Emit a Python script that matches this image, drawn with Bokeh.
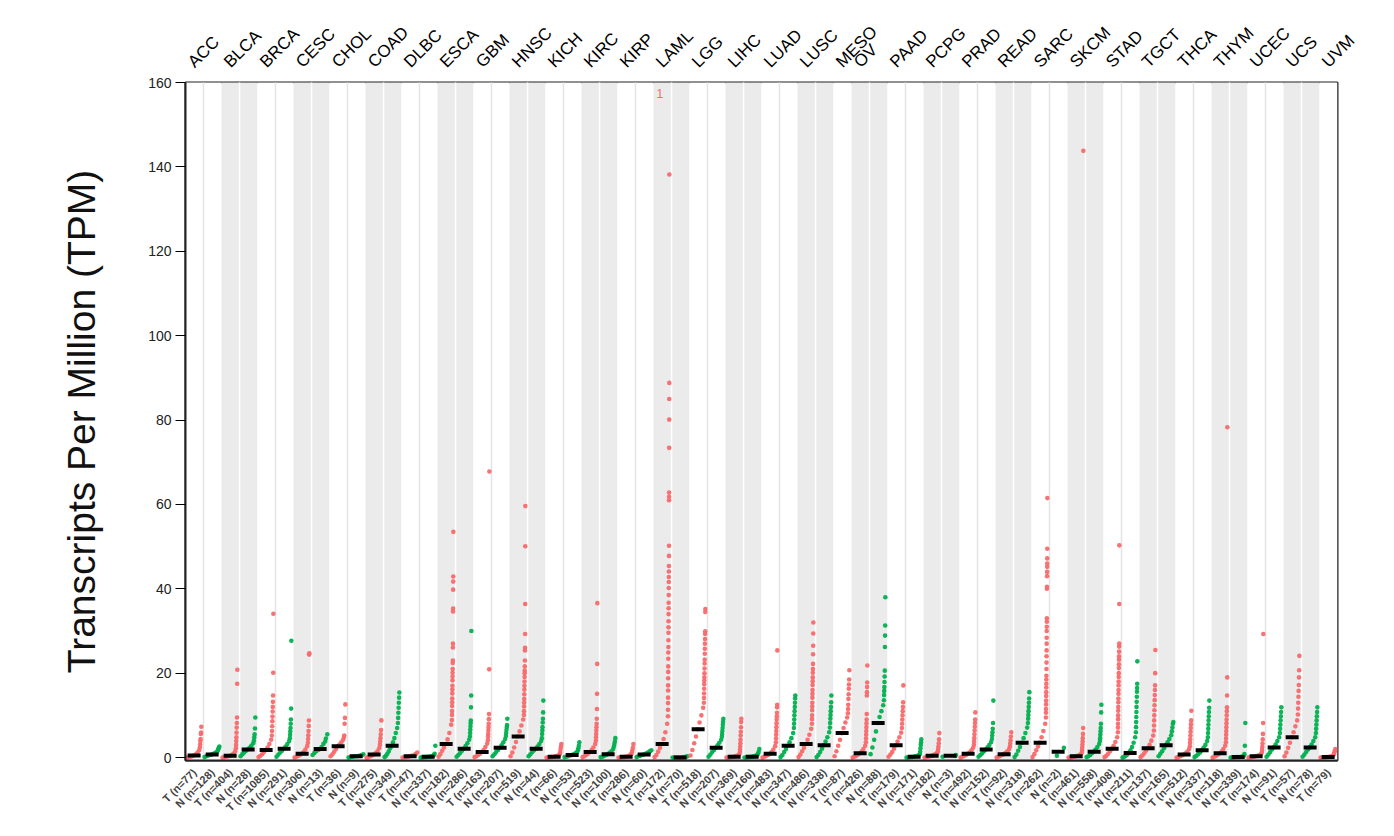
import math
from bokeh.plotting import figure
from bokeh.layouts import column
from bokeh.models import Range1d, FixedTicker
from bokeh.embed import file_html
from bokeh.resources import INLINE
from bokeh.core.properties import value

# ---------------- data ----------------
cancer_types = ["ACC","BLCA","BRCA","CESC","CHOL","COAD","DLBC","ESCA","GBM","HNSC","KICH",
                "KIRC","KIRP","LAML","LGG","LIHC","LUAD","LUSC","MESO","OV","PAAD","PCPG",
                "PRAD","READ","SARC","SKCM","STAD","TGCT","THCA","THYM","UCEC","UCS","UVM"]

tumor_n = [77,404,1085,306,36,275,47,182,163,519,66,523,286,172,518,369,483,486,87,426,
           179,182,492,92,262,461,408,137,512,118,174,57,79]
normal_n = [128,28,291,13,9,349,337,286,207,44,53,100,60,70,207,160,347,338,None,88,
            171,3,152,318,2,558,211,165,337,339,91,78,None]

tumor_median = [0.5,0.4,1.8,0.9,2.7,0.7,0.3,3.2,1.3,5.0,0.2,1.3,0.2,3.2,6.7,0.2,0.9,3.2,5.8,1.0,
                2.9,0.4,0.9,0.8,3.5,0.3,2.1,2.2,0.7,1.0,0.3,4.8,0.1]
normal_median = [0.7,1.9,2.1,2.0,0.3,2.8,0.2,2.1,2.3,2.1,0.6,0.8,0.7,0.0,2.3,0.2,2.8,2.9,None,8.2,
                 0.2,0.4,1.9,3.5,1.4,1.4,1.1,2.9,1.7,0.1,2.4,2.4,None]

tumor_body = [
    [0.0,0.1,0.2,0.3,0.5,0.7,1.1,1.7],
    [0.0,0.1,0.2,0.3,0.4,0.6,0.9,1.5],
    [0.1,0.4,0.8,1.3,1.8,2.4,3.2,4.2],
    [0.0,0.2,0.4,0.6,0.9,1.3,1.9,2.7],
    [0.3,0.8,1.4,2.0,2.7,3.1,3.6,4.2],
    [0.0,0.1,0.3,0.5,0.7,1.0,1.5,2.2],
    [0.0,0.1,0.1,0.2,0.3,0.4,0.5,0.7],
    [0.2,0.8,1.6,2.4,3.2,4.3,5.8,7.8],
    [0.1,0.3,0.6,0.9,1.3,1.8,2.5,3.3],
    [0.3,1.2,2.4,3.7,5.0,6.2,7.6,9.0],
    [0.0,0.0,0.1,0.1,0.2,0.3,0.4,0.6],
    [0.1,0.3,0.6,0.9,1.3,1.8,2.4,3.2],
    [0.0,0.0,0.1,0.1,0.2,0.3,0.5,0.8],
    [0.1,0.6,1.4,2.3,3.2,4.4,6.0,8.0],
    [0.5,1.8,3.4,5.0,6.7,8.3,10.0,11.8],
    [0.0,0.0,0.1,0.1,0.2,0.3,0.5,0.8],
    [0.0,0.2,0.4,0.6,0.9,1.3,1.9,2.7],
    [0.1,0.7,1.5,2.3,3.2,4.2,5.4,6.8],
    [0.3,1.5,2.8,4.2,5.8,7.0,8.3,9.5],
    [0.0,0.2,0.4,0.7,1.0,1.4,2.0,2.8],
    [0.2,0.7,1.3,2.1,2.9,3.8,4.8,5.9],
    [0.0,0.1,0.2,0.3,0.4,0.6,0.8,1.1],
    [0.0,0.2,0.4,0.6,0.9,1.2,1.7,2.3],
    [0.0,0.2,0.4,0.6,0.8,1.1,1.5,2.0],
    [0.1,0.8,1.7,2.6,3.5,4.8,6.3,8.0],
    [0.0,0.0,0.1,0.2,0.3,0.4,0.6,0.9],
    [0.1,0.4,0.9,1.5,2.1,2.8,3.7,4.8],
    [0.1,0.5,1.0,1.6,2.2,3.0,4.0,5.2],
    [0.0,0.1,0.3,0.5,0.7,1.0,1.4,2.0],
    [0.0,0.2,0.4,0.7,1.0,1.4,2.0,2.8],
    [0.0,0.1,0.1,0.2,0.3,0.4,0.6,0.9],
    [0.3,1.2,2.3,3.5,4.8,6.0,7.4,8.8],
    [0.0,0.0,0.0,0.1,0.1,0.2,0.3,0.5],
]
tumor_tail = [
    [2.4,3.1,3.9,4.4,5.6,5.9,7.3],
    [2.2,3.0,3.9,4.8,5.9,7.1,8.2,9.5,17.5,20.8],
    [5.2,6.3,7.4,8.6,9.7,10.9,12.0,13.2,14.7,20.1,34.1],
    [3.5,4.4,5.3,6.3,7.5,8.8,24.4,24.7],
    [4.8,5.2,8.0,9.4,12.6],
    [3.0,3.8,4.6,5.5,6.5,8.8],
    [0.9,1.2],
    [8.9,10.1,11.0,12.2,13.1,14.0,15.2,16.1,17.0,18.3,19.2,20.1,21.0,22.4,23.0,26.1,27.0,
     34.6,35.3,39.8,41.7,42.9,53.5],
    [4.1,4.9,5.6,6.4,7.2,8.0,9.1,10.3,20.9,67.8],
    [10.1,11.0,12.1,13.0,13.9,15.0,16.1,17.0,18.0,19.1,20.0,20.6,21.6,23.0,25.4,26.0,29.3,
     36.4,50.1,59.6],
    [0.9,1.3,2.0,2.6,3.2],
    [4.0,4.8,5.6,6.4,7.2,8.0,9.2,11.5,15.1,22.2,36.6],
    [1.2,1.7,2.3,3.2],
    [9.8,11.3,12.9,14.2,15.9,17.1,18.8,20.3,21.6,23.4,24.9,26.2,27.8,29.6,30.9,32.3,34.0,
     35.4,36.7,38.5,40.2,41.6,42.8,44.1,45.4,47.8,50.2,61.0,61.8,62.8,73.4,80.1,85.0,88.8,138.2],
    [13.0,14.1,15.2,16.3,17.4,18.2,19.0,20.0,21.1,22.3,23.2,24.6,25.8,27.0,28.1,29.3,29.9,34.5,35.2],
    [1.3,1.9,2.6,3.4,4.2,5.2,6.1,7.2,8.4,9.2],
    [3.6,4.5,5.4,6.3,7.2,8.1,9.0,9.8,10.6,11.9,12.5,25.4],
    [8.0,9.1,10.0,11.2,12.1,13.0,14.2,15.1,16.0,17.2,18.1,19.0,20.1,21.0,22.2,24.5,26.5,29.4,32.0],
    [10.5,11.5,12.5,13.9,15.0,16.3,17.3,18.5,20.7],
    [3.6,4.5,5.4,6.3,7.2,8.1,9.0,10.3,14.7,15.5,16.7,17.8,21.8],
    [7.0,8.0,9.0,10.0,11.0,12.0,13.1,17.1],
    [1.5,2.0,2.6,3.4,4.3,5.8],
    [3.0,3.8,4.6,5.5,6.4,7.3,8.2,9.0,10.7],
    [2.6,3.3,4.1,5.0,6.0],
    [9.5,10.6,11.5,12.6,13.5,14.6,15.5,16.6,17.5,18.5,19.4,21.0,22.5,24.0,25.4,27.0,28.4,30.0,
     31.0,32.2,33.0,40.0,40.5,43.0,44.0,45.2,46.0,47.2,49.5,61.5],
    [1.3,1.8,2.4,3.1,3.8,4.6,5.6,7.0,143.8],
    [6.0,7.1,8.0,9.1,10.0,11.1,12.0,13.1,14.0,15.1,16.0,17.1,18.0,19.1,20.0,21.2,22.1,23.2,24.0,
     25.1,26.3,27.0,36.4,50.3],
    [6.4,7.6,8.8,10.0,11.2,12.4,13.6,14.8,16.0,17.1,20.0,25.5],
    [2.7,3.5,4.3,5.2,6.1,7.0,7.9,8.8,11.1],
    [3.6,4.5,5.4,6.3,7.2,8.1,9.0,10.0,11.0,11.9,14.7,19.0,78.3],
    [1.3,1.8,2.5,3.3,4.3,5.6,8.2,29.3],
    [10.2,11.6,13.0,14.4,15.8,17.2,19.0,20.7,24.1],
    [0.8,1.2,1.6,2.0],
]
normal_body = [
    [0.1,0.3,0.5,0.6,0.7,0.9,1.1,1.4],
    [0.3,0.8,1.2,1.6,1.9,2.3,2.8,3.4],
    [0.2,0.7,1.2,1.6,2.1,2.6,3.2,3.9],
    [0.6,1.1,1.5,1.8,2.0,2.5,3.2,3.8],
    [0.0,0.1,0.2,0.3,0.3,0.4,0.5],
    [0.1,0.4,0.9,1.5,2.2,2.8,3.6,4.6,5.8,7.0],
    [0.0,0.0,0.1,0.1,0.2,0.2,0.3,0.4],
    [0.2,0.6,1.1,1.6,2.1,2.7,3.4,4.2],
    [0.3,0.8,1.3,1.8,2.3,2.9,3.6,4.4],
    [0.3,0.8,1.3,1.7,2.1,2.6,3.2,3.9],
    [0.1,0.2,0.3,0.5,0.6,0.8,1.0,1.3],
    [0.1,0.2,0.4,0.6,0.8,1.1,1.5,2.0],
    [0.1,0.3,0.4,0.6,0.7,0.9,1.1,1.3],
    [0.0,0.0,0.0,0.0,0.0,0.0,0.1,0.1],
    [0.2,0.7,1.3,1.8,2.3,2.9,3.5,4.2],
    [0.0,0.0,0.1,0.1,0.2,0.3,0.4,0.6],
    [0.1,0.6,1.3,2.0,2.8,3.6,4.6,5.8],
    [0.1,0.6,1.3,2.1,2.9,3.8,4.8,6.0],
    None,
    [0.8,2.4,4.2,6.2,8.2,9.6,11.0,12.4],
    [0.0,0.0,0.1,0.1,0.2,0.3,0.4,0.6],
    [0.2,0.4],
    [0.2,0.6,1.0,1.5,1.9,2.4,3.0,3.7],
    [0.1,0.7,1.6,2.5,3.5,4.6,5.8,7.1],
    [0.4],
    [0.1,0.3,0.6,1.0,1.4,1.9,2.5,3.2],
    [0.0,0.2,0.4,0.7,1.1,1.7,2.5,3.5,4.8],
    [0.3,0.9,1.5,2.2,2.9,3.6,4.4,5.3],
    [0.1,0.4,0.8,1.2,1.7,2.3,3.0,3.9],
    [0.0,0.0,0.0,0.1,0.1,0.1,0.2,0.3],
    [0.2,0.7,1.3,1.9,2.4,3.1,3.9,4.8],
    [0.2,0.7,1.3,1.9,2.4,3.1,3.9,4.8],
    None,
]
normal_tail = [
    [1.7,2.0,2.3,2.6],
    [4.0,4.8,5.5,6.9,9.5],
    [4.6,5.4,6.2,7.0,8.0,9.0,11.6,27.7],
    [4.5,5.5],
    [0.6,0.8],
    [8.2,9.4,10.6,11.8,13.0,14.2,15.4],
    [0.6,0.9,2.8],
    [5.0,5.8,6.6,7.4,8.2,8.8,11.9,14.7,30.0],
    [5.1,5.8,6.5,7.2,7.7,9.2],
    [4.6,5.6,6.4,7.2,8.3,9.2,10.7,13.5],
    [1.7,2.2,2.8,3.6],
    [2.6,3.2,3.8,4.6],
    [1.5,1.7],
    [0.2,0.3],
    [4.9,5.6,6.3,7.0,7.8,8.5,9.2],
    [0.9,1.3,2.0],
    [7.0,8.0,9.0,10.0,11.0,12.0,13.0,14.0,14.7],
    [7.1,8.2,9.2,10.1,11.0,12.0,13.1,14.7],
    None,
    [13.6,14.8,15.8,16.7,17.9,19.2,20.6,26.2,28.9,31.3,38.0],
    [0.9,1.4,2.2,3.0,3.6,4.3],
    [0.6],
    [4.4,5.2,6.0,6.8,8.2,13.5],
    [8.2,9.2,10.1,11.0,12.0,13.0,14.0,15.5],
    [2.3],
    [3.9,4.6,5.4,6.2,7.0,8.0,10.7,12.5],
    [6.0,7.2,8.4,9.6,10.8,12.0,13.2,14.4,15.6,16.5,17.5,22.8],
    [6.2,7.1,8.0,8.4],
    [4.8,5.8,6.8,7.8,8.8,9.8,10.8,11.8,13.5],
    [0.5,0.8,2.8,8.2],
    [5.8,6.8,7.8,8.8,9.8,10.8,11.9],
    [5.8,6.8,7.8,8.8,9.8,10.8,11.9],
    None,
]
laml_marker_text = "1"
laml_marker_value = 157.3

y_ticks = [0, 20, 40, 60, 80, 100, 120, 140, 160]
y_title = "Transcripts Per Million (TPM)"

# ---------------- styling ----------------
TUMOR = "#F8696B"
NORMAL = "#00B04F"
GREY = "#EBEBEB"
FONT = "Liberation Sans"
PX = 18.0            # pixels per column
LEFT = 185           # frame left edge on page
FIG_W = 1390
HEAD_H = 74

# ---------------- layout of columns ----------------
col_labels, col_color, col_body, col_tail, col_median = [], [], [], [], []
type_start, type_end = [], []
for i, t in enumerate(cancer_types):
    type_start.append(len(col_labels))
    col_labels.append(f"T (n={tumor_n[i]})")
    col_color.append(TUMOR)
    col_body.append(tumor_body[i]); col_tail.append(tumor_tail[i]); col_median.append(tumor_median[i])
    if normal_n[i] is not None:
        col_labels.append(f"N (n={normal_n[i]})")
        col_color.append(NORMAL)
        col_body.append(normal_body[i]); col_tail.append(normal_tail[i]); col_median.append(normal_median[i])
    type_end.append(len(col_labels))
ncol = len(col_labels)
right_border = FIG_W - LEFT - int(ncol * PX)

# ---------------- header: cancer-type names on a rotated top axis ----------------
head = figure(width=FIG_W, height=HEAD_H, output_backend="svg", toolbar_location=None,
              x_range=Range1d(0, ncol), y_range=Range1d(0, 1),
              x_axis_location="above", y_axis_location=None,
              min_border_left=LEFT, min_border_right=right_border,
              min_border_top=HEAD_H - 2, min_border_bottom=0,
              background_fill_color="white", border_fill_color="white")
head.outline_line_color = None
head.grid.visible = False
head_ticks = [type_start[i] + 0.3 for i in range(len(cancer_types))]
head.xaxis.ticker = FixedTicker(ticks=head_ticks)
head.xaxis.major_label_overrides = {head_ticks[i]: cancer_types[i] for i in range(len(cancer_types))}
head.xaxis.major_label_orientation = math.pi / 4
head.xaxis.major_label_text_font = FONT
head.xaxis.major_label_text_font_size = "17px"
head.xaxis.major_label_text_color = "#000000"
head.xaxis.major_label_standoff = 2
head.xaxis.axis_line_color = None
head.xaxis.major_tick_line_color = None
head.xaxis.minor_tick_line_color = None

# ---------------- main plot ----------------
p = figure(width=FIG_W, height=756, output_backend="svg", toolbar_location=None,
           x_range=Range1d(0, ncol), y_range=Range1d(-0.7, 160),
           min_border_left=LEFT, min_border_right=right_border,
           min_border_top=8, min_border_bottom=70,
           background_fill_color="white", border_fill_color="white")
p.grid.visible = False
p.outline_line_color = "#222222"
p.outline_line_width = 2

# background bands
bl, br, bc = [], [], []
for i in range(len(cancer_types)):
    bl.append(type_start[i]); br.append(type_end[i]); bc.append(GREY if i % 2 else "#FFFFFF")
p.quad(left=bl, right=br, bottom=-2, top=162, fill_color=bc, line_color=None)

# separators inside bands
sx, sc = [], []
for i in range(len(cancer_types)):
    for k in range(type_start[i] + 1, type_end[i]):
        sx.append(k); sc.append("#FFFFFF" if i % 2 else "#E4E4E4")
p.segment(x0=sx, y0=[-2] * len(sx), x1=sx, y1=[162] * len(sx), line_color=sc, line_width=1.5)

# dots
for k in range(ncol):
    xs, ys = [], []
    b = col_body[k]
    nb = len(b)
    for j, v in enumerate(b):
        xs.append(k + 0.06 + (0.70 * j / (nb - 1) if nb > 1 else 0.35))
        ys.append(v)
    tl = col_tail[k]
    nt = len(tl)
    for j, v in enumerate(tl):
        xs.append(k + 0.80 + (0.08 * j / (nt - 1) if nt > 1 else 0.0))
        ys.append(v)
    p.scatter(xs, ys, size=4.6, fill_color=col_color[k], line_color=None, fill_alpha=0.95)

# medians
mx0 = [k + 0.12 for k in range(ncol)]
mx1 = [k + 0.84 for k in range(ncol)]
p.segment(x0=mx0, y0=col_median, x1=mx1, y1=col_median, line_color="black",
          line_width=4, line_cap="butt")

# LAML marker text
laml_col = type_start[cancer_types.index("LAML")]
p.text(x=[laml_col + 0.35], y=[laml_marker_value], text=[laml_marker_text], text_color=TUMOR,
       text_font_size="12px", text_align="center", text_baseline="middle", text_font=value(FONT))

# axes
p.yaxis.ticker = FixedTicker(ticks=y_ticks)
p.yaxis.axis_label = y_title
p.yaxis.axis_label_text_font = FONT
p.yaxis.axis_label_text_font_size = "39px"
p.yaxis.axis_label_text_font_style = "normal"
p.yaxis.axis_label_text_color = "#111111"
p.yaxis.axis_label_standoff = 42
p.yaxis.major_label_text_font = FONT
p.yaxis.major_label_text_font_size = "14px"
p.yaxis.major_label_text_color = "#222222"
p.yaxis.major_tick_out = 10
p.yaxis.major_tick_in = 0
p.yaxis.minor_tick_line_color = None
p.yaxis.axis_line_color = "#222222"
p.yaxis.axis_line_width = 2
p.yaxis.major_label_standoff = 4

p.xaxis.ticker = FixedTicker(ticks=[k + 0.5 for k in range(ncol)])
p.xaxis.major_label_overrides = {k + 0.5: col_labels[k] for k in range(ncol)}
p.xaxis.major_label_orientation = math.pi / 4
p.xaxis.major_label_text_font = FONT
p.xaxis.major_label_text_font_size = "11px"
p.xaxis.major_label_text_font_style = "bold"
p.xaxis.major_label_standoff = 4
p.xaxis.major_tick_line_color = None
p.xaxis.minor_tick_line_color = None
p.xaxis.axis_line_color = "#222222"
p.xaxis.axis_line_width = 2

layout = column(head, p, spacing=0)
open("out.html", "w").write(file_html(layout, INLINE))
